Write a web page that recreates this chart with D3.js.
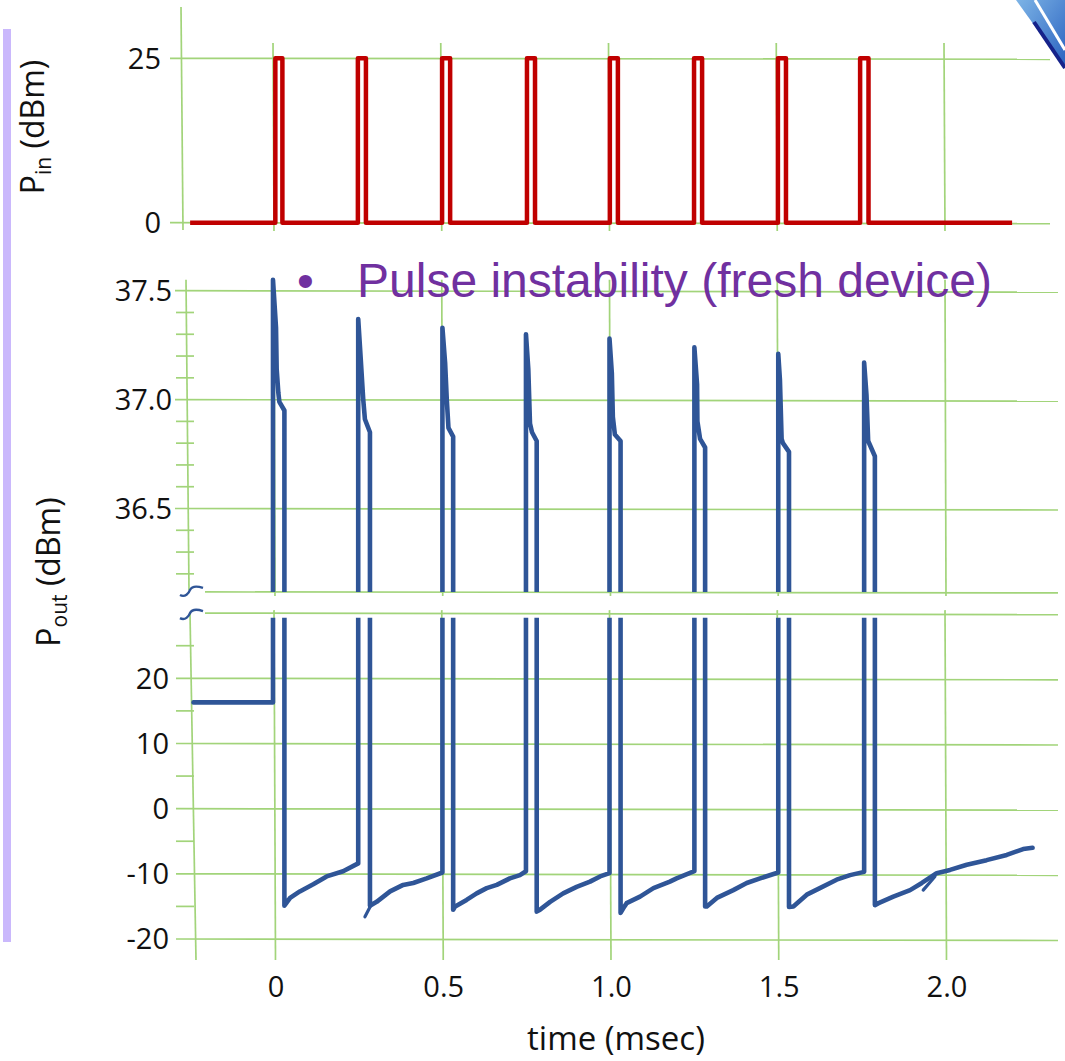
<!DOCTYPE html>
<html>
<head>
<meta charset="utf-8">
<script src="https://cdn.jsdelivr.net/npm/d3@7"></script>
<style>
  body { margin: 0; background: #fff; }
  svg { display: block; }
</style>
</head>
<body>
<svg id="chart" width="1065" height="1061"></svg>
<script>
// ---- data ----
const timeTicks = [0, 0.5, 1.0, 1.5, 2.0];
const timeTickLabels = ["0", "0.5", "1.0", "1.5", "2.0"];

// P_in (dBm): square pulses
const pinTicks = [0, 25];
const pinOn  = [0.004, 0.250, 0.501, 0.754, 1.001, 1.252, 1.502, 1.747];
const pinOff = [0.025, 0.274, 0.525, 0.778, 1.025, 1.276, 1.526, 1.772];
const pinHigh = 25;
const pinLow = 0;
const pinStart = -0.25;
const pinEnd = 2.2;

// P_out (dBm), upper zoomed band
const poutHiTicks = [36.5, 37.0, 37.5];
const poutHiMinor = [36.2, 36.3, 36.4, 36.6, 36.7, 36.8, 36.9, 37.1, 37.2, 37.3, 37.4];
// P_out (dBm), lower band
const poutLoTicks = [-20, -10, 0, 10, 20];
const poutLoMinor = [-15, -5, 5, 15, 25];

// trace before the first pulse [t, dBm]
const poutBefore = [[-0.24, 16.3], [-0.003, 16.3]];
// top of each pulse [t, dBm]
const pulseTops = [
  [[-0.003, 37.55], [0.006, 37.33], [0.008, 37.14], [0.013, 37.03], [0.016, 36.99], [0.031, 36.95]],
  [[0.251, 37.37], [0.258, 37.20], [0.266, 37.00], [0.271, 36.91], [0.286, 36.85]],
  [[0.502, 37.33], [0.510, 37.17], [0.515, 37.00], [0.520, 36.87], [0.534, 36.83]],
  [[0.751, 37.30], [0.758, 37.14], [0.763, 36.89], [0.769, 36.85], [0.783, 36.81]],
  [[1.000, 37.28], [1.007, 37.12], [1.010, 36.92], [1.016, 36.84], [1.033, 36.81]],
  [[1.253, 37.24], [1.261, 37.07], [1.262, 36.90], [1.270, 36.82], [1.285, 36.78]],
  [[1.503, 37.21], [1.508, 37.09], [1.513, 36.82], [1.517, 36.80], [1.535, 36.76]],
  [[1.759, 37.17], [1.766, 37.02], [1.771, 36.81], [1.791, 36.74]]
];
// recovery after each pulse [t, dBm]
const recoveries = [
  [[0.031, -14.9], [0.048, -13.7], [0.077, -12.7], [0.117, -11.6], [0.157, -10.4], [0.206, -9.6], [0.251, -8.4]],
  [[0.286, -14.9], [0.306, -14.3], [0.346, -12.7], [0.385, -11.7], [0.415, -11.4], [0.455, -10.7], [0.502, -9.8]],
  [[0.534, -15.5], [0.540, -15.0], [0.574, -14.0], [0.604, -13.0], [0.634, -12.2], [0.664, -11.7], [0.703, -10.7], [0.733, -10.2], [0.751, -9.6]],
  [[0.783, -15.8], [0.793, -15.5], [0.823, -14.3], [0.862, -13.0], [0.902, -12.0], [0.942, -11.2], [0.972, -10.4], [1.000, -9.9]],
  [[1.033, -16.0], [1.041, -15.3], [1.051, -14.5], [1.091, -13.5], [1.131, -12.2], [1.180, -11.2], [1.200, -10.7], [1.253, -9.6]],
  [[1.285, -15.0], [1.290, -15.0], [1.320, -13.7], [1.369, -12.5], [1.409, -11.4], [1.449, -10.7], [1.503, -9.8]],
  [[1.535, -15.1], [1.548, -15.0], [1.588, -13.2], [1.627, -12.2], [1.677, -10.9], [1.717, -10.2], [1.759, -9.7]],
  [[1.791, -14.8], [1.802, -14.5], [1.846, -13.5], [1.896, -12.5], [1.931, -11.4], [1.975, -9.9], [2.015, -9.4],
   [2.065, -8.6], [2.124, -7.9], [2.184, -7.1], [2.233, -6.2], [2.261, -6.0]]
];
// small extra hand strokes on the trace
const extraStrokes = [
  [[0.271, -16.6], [0.290, -14.7]],
  [[1.935, -12.5], [1.970, -10.4]]
];

const titleText = "Pulse instability (fresh device)";

// ---- layout ----
const svg = d3.select("#chart");
const gridColor = "#a2d47a";
const traceBlue = "#2f5597";
const gridRight = 1058;

const x = d3.scaleLinear().domain([0, 2]).range([274, 945]);
const yTop = d3.scaleLinear().domain([0, 25]).range([222.7, 58.3]);
const yMid = d3.scaleLinear().domain([36.5, 37.5]).range([508.5, 290.7]);
const yBot = d3.scaleLinear().domain([-20, 20]).range([939, 678.3]);

const midLow = 36.117, midHigh = 37.55;
const botHigh = 30, botClip = 29.3;

// purple side bar
svg.append("rect").attr("x", 3).attr("y", 29).attr("width", 8).attr("height", 913).attr("fill", "#cab8fc");

// top-right slide decoration
const defs = svg.append("defs");
const grad = defs.append("linearGradient").attr("id", "deco").attr("x1", 0).attr("y1", 0).attr("x2", 1).attr("y2", 1);
grad.append("stop").attr("offset", "0%").attr("stop-color", "#7db4e6");
grad.append("stop").attr("offset", "100%").attr("stop-color", "#2a62c0");
svg.append("path").attr("d", "M1016,0 L1065,0 L1065,68 Z").attr("fill", "url(#deco)");
svg.append("path").attr("d", "M1034,22 L1065,68").attr("stroke", "#16228a").attr("stroke-width", 4);
svg.append("path").attr("d", "M1035,0 L1065,50").attr("stroke", "#fff").attr("stroke-width", 3);

const grid = svg.append("g").attr("stroke", gridColor).attr("stroke-width", 1.7).attr("fill", "none");

// ---- top panel grid ----
grid.append("line").attr("x1", 181).attr("x2", 183).attr("y1", 7).attr("y2", 230);
grid.selectAll(".topH").data(pinTicks).enter().append("line")
  .attr("x1", 170).attr("x2", 1050)
  .attr("y1", d => yTop(d)).attr("y2", d => yTop(d) + 1);
grid.selectAll(".topV").data(timeTicks).enter().append("line")
  .attr("x1", d => x(d) - 1).attr("x2", d => x(d))
  .attr("y1", 43).attr("y2", 231);

// ---- middle panel grid ----
grid.append("line").attr("x1", 186).attr("x2", 189).attr("y1", yMid(midHigh)).attr("y2", yMid(midLow) - 2);
grid.selectAll(".midH").data(poutHiTicks).enter().append("line")
  .attr("x1", 175).attr("x2", gridRight)
  .attr("y1", d => yMid(d)).attr("y2", d => yMid(d) + 1.5);
grid.append("line").attr("x1", 205).attr("x2", gridRight)
  .attr("y1", yMid(midLow)).attr("y2", yMid(midLow) + 1);
grid.selectAll(".midM").data(poutHiMinor).enter().append("line")
  .attr("x1", 176).attr("x2", 194)
  .attr("y1", d => yMid(d)).attr("y2", d => yMid(d));
grid.selectAll(".midV").data(timeTicks).enter().append("line")
  .attr("x1", d => x(d)).attr("x2", d => x(d) + 1)
  .attr("y1", yMid(midHigh)).attr("y2", yMid(midLow) + 4);

// ---- bottom panel grid ----
grid.append("line").attr("x1", 190).attr("x2", 196).attr("y1", yBot(botHigh)).attr("y2", 960);
grid.selectAll(".botH").data(poutLoTicks).enter().append("line")
  .attr("x1", 176).attr("x2", gridRight)
  .attr("y1", d => yBot(d)).attr("y2", d => yBot(d) + 1.5);
grid.append("line").attr("x1", 205).attr("x2", gridRight)
  .attr("y1", yBot(botHigh)).attr("y2", yBot(botHigh) + 1.5);
grid.selectAll(".botM").data(poutLoMinor).enter().append("line")
  .attr("x1", 176).attr("x2", 194)
  .attr("y1", d => yBot(d)).attr("y2", d => yBot(d));
grid.selectAll(".botV").data(timeTicks).enter().append("line")
  .attr("x1", d => x(d)).attr("x2", d => x(d) + 1.5)
  .attr("y1", yBot(botHigh) - 3).attr("y2", 960);

// ---- tick labels ----
const tickFont = "'Open Sans', 'Noto Sans', sans-serif";
const labels = svg.append("g").attr("font-family", tickFont).attr("font-size", 29).attr("fill", "#111");
labels.selectAll(".tTop").data(pinTicks).enter().append("text")
  .attr("x", 161).attr("y", d => yTop(d)).attr("dy", "0.36em")
  .attr("text-anchor", "end").text(d => d);
labels.selectAll(".tMid").data(poutHiTicks).enter().append("text")
  .attr("x", 172).attr("y", d => yMid(d)).attr("dy", "0.36em")
  .attr("text-anchor", "end").text(d => d3.format(".1f")(d));
labels.selectAll(".tBot").data(poutLoTicks).enter().append("text")
  .attr("x", 169).attr("y", d => yBot(d)).attr("dy", "0.36em")
  .attr("text-anchor", "end").text(d => d);
labels.selectAll(".tX").data(timeTicks).enter().append("text")
  .attr("x", (d, i) => x(d) + 2).attr("y", 997)
  .attr("text-anchor", "middle").text((d, i) => timeTickLabels[i]);

// axis titles
svg.append("text").attr("x", 616).attr("y", 1050).attr("text-anchor", "middle")
  .attr("font-family", tickFont).attr("font-size", 33).attr("fill", "#111").text("time (msec)");

function yTitle(cx, cy, sub) {
  const t = svg.append("text")
    .attr("transform", `translate(${cx},${cy}) rotate(-90)`)
    .attr("text-anchor", "middle")
    .attr("font-family", tickFont).attr("font-size", 32).attr("fill", "#111");
  t.append("tspan").text("P");
  t.append("tspan").attr("font-size", 21).attr("dy", 7).text(sub);
  t.append("tspan").attr("dy", -7).text(" (dBm)");
}
yTitle(44, 127, "in");
yTitle(60, 572, "out");

// ---- traces ----
const line = d3.line();

// P_in
const pinPts = [[pinStart, pinLow]];
pinOn.forEach((t, i) => {
  pinPts.push([t, pinLow], [t, pinHigh], [pinOff[i], pinHigh], [pinOff[i], pinLow]);
});
pinPts.push([pinEnd, pinLow]);
svg.append("path")
  .attr("d", line(pinPts.map(d => [x(d[0]), yTop(d[1])])))
  .attr("fill", "none").attr("stroke", "#c00000").attr("stroke-width", 4.5)
  .attr("stroke-linejoin", "round");

// P_out: one trace, shown through two clipped windows
const trace = [...poutBefore];
pulseTops.forEach((top, i) => { trace.push(...top, ...recoveries[i]); });

defs.append("clipPath").attr("id", "clipMid").append("rect")
  .attr("x", 0).attr("width", 1065)
  .attr("y", yMid(midHigh) - 6).attr("height", yMid(midLow) - yMid(midHigh) + 6);
defs.append("clipPath").attr("id", "clipBot").append("rect")
  .attr("x", 0).attr("width", 1065)
  .attr("y", yBot(botClip)).attr("height", yBot(-25) - yBot(botClip));

svg.append("path").attr("clip-path", "url(#clipMid)")
  .attr("d", line(trace.map(d => [x(d[0]), yMid(d[1])])))
  .attr("fill", "none").attr("stroke", traceBlue).attr("stroke-width", 4.6)
  .attr("stroke-linejoin", "round");
svg.append("path").attr("clip-path", "url(#clipBot)")
  .attr("d", line(trace.map(d => [x(d[0]), yBot(d[1])])))
  .attr("fill", "none").attr("stroke", traceBlue).attr("stroke-width", 4.6)
  .attr("stroke-linejoin", "round").attr("stroke-linecap", "round");
svg.selectAll(".extra").data(extraStrokes).enter().append("path")
  .attr("d", d => line(d.map(p => [x(p[0]), yBot(p[1])])))
  .attr("fill", "none").attr("stroke", traceBlue).attr("stroke-width", 3.2)
  .attr("stroke-linecap", "round");

// axis break marks
[yMid(midLow) - 1, yBot(botHigh) + 1].forEach(yy => {
  const p = d3.path();
  p.moveTo(180, yy + 4);
  p.bezierCurveTo(185, yy + 7, 189, yy + 2, 190, yy - 1);
  p.bezierCurveTo(192, yy - 5, 197, yy - 5, 203, yy - 3);
  svg.append("path").attr("d", p.toString())
    .attr("fill", "none").attr("stroke", traceBlue).attr("stroke-width", 2.4);
});

// ---- bullet title ----
const title = svg.append("text").attr("y", 297)
  .attr("font-family", "'Liberation Sans', Arial, sans-serif").attr("font-size", 48).attr("fill", "#7030a0");
title.append("tspan").attr("x", 297).text("\u2022");
title.append("tspan").attr("x", 357).text(titleText);
</script>
</body>
</html>
